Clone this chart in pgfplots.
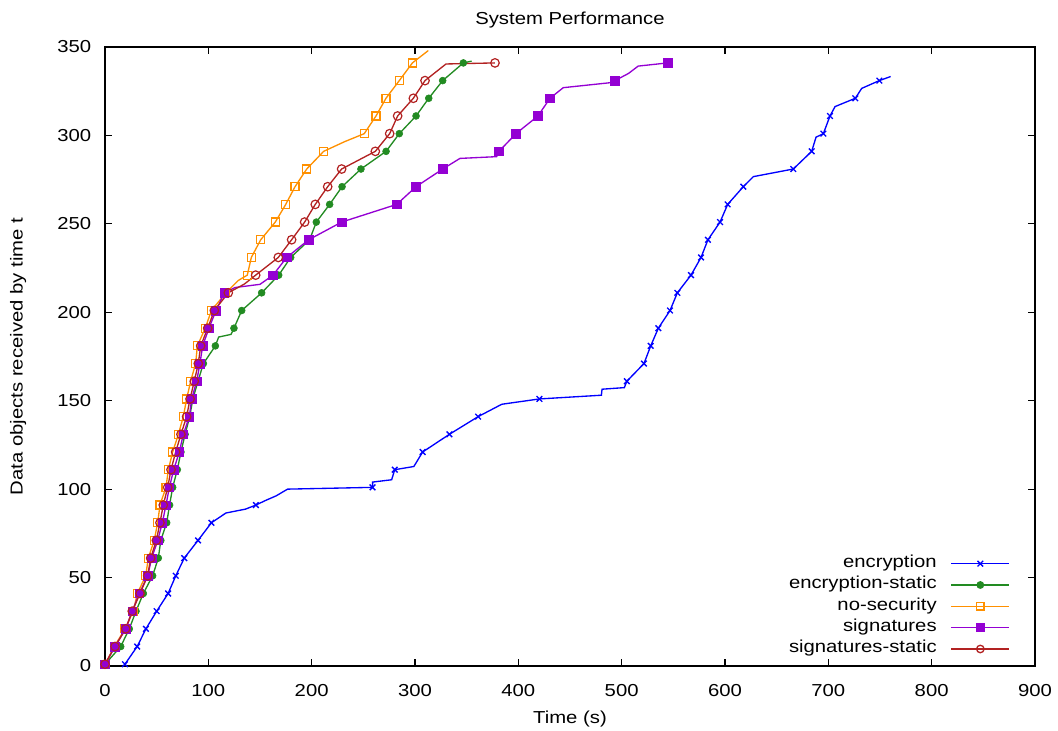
\documentclass[border=0pt]{standalone}
\usepackage{fontspec}
\setmainfont{Liberation Sans}[FakeStretch=1.17]
\usepackage{pgfplots}
\usepackage{pgfplotstable}
\pgfplotsset{compat=1.18}
\newcommand\fsz{\fontsize{13}{15}\selectfont}
\definecolor{encC}{HTML}{0000FF}
\definecolor{encsC}{HTML}{228B22}
\definecolor{nosC}{HTML}{FF9000}
\definecolor{sigC}{HTML}{9400D3}
\definecolor{sigsC}{HTML}{B22222}

\pgfplotstableread{
t n m
19.3 1 1
31.1 11 1
39.6 21 1
50.0 31 1
61.1 41 1
68.5 51 1
76.7 61 1
90.0 71 1
103.0 81 1
117.0 86.5 0
136.0 88.7 0
146.0 91 1
155.0 93.5 0
165.6 96.2 0
176.7 100 0
258.9 101 1
259.0 104 0
277.4 105.3 0
280.4 111 1
298.9 112.8 0
307.4 121 1
333.3 131 1
361.1 141 1
384.0 148 0
420.4 151 1
480.4 153.1 0
481.0 156.5 0
502.6 157.4 0
505.0 161 1
521.6 171 1
528.1 181 1
535.5 191 1
546.8 201 1
553.9 211 1
567.1 221 1
576.8 231 1
583.5 241 1
595.2 251 1
602.6 261 1
617.7 271 1
627.4 276.7 0
666.1 281 1
683.9 291 1
688.1 299 0
695.2 301 1
701.6 311 1
706.5 316.3 0
726.1 321 1
732.3 326.6 0
749.4 331 1
760.3 333.3 0
}\encr

\pgfplotstableread{
t n m
0 1 1
15.2 11 1
23.5 21 1
30.0 31 1
37.1 41 1
46.1 51 1
51.6 61 1
54.0 71 1
59.7 81 1
62.5 91 1
65.5 101 1
70.0 111 1
73.5 121 1
77.5 131 1
82.0 141 1
85.0 151 1
90.0 161 1
95.2 171 1
106.8 181 1
110.0 186 0
122.0 187.5 0
124.8 191 1
132.3 201 1
151.6 211 1
168.1 221 1
179.7 231 1
198.0 241 1
204.5 251 1
217.4 261 1
229.4 271 1
247.7 281 1
272.0 291 1
284.8 301 1
301.0 311 1
313.3 321 1
326.8 331 1
346.8 341 1
354.8 342 0
}\encs

\pgfplotstableread{
t n m
0 1 1
9.0 11 1
19.4 21 1
27.4 31 1
31.3 41 1
39.4 51 1
41.9 61 1
47.6 71 1
51.0 81 1
53.2 91 1
59.0 101 1
61.3 111 1
65.5 121 1
71.0 131 1
75.8 141 1
79.0 151 1
82.9 161 1
87.7 171 1
89.4 181 1
97.0 191 1
103.0 201 1
117.0 211 1
129.0 218 0
137.7 221 1
141.6 231 1
150.7 241 1
164.8 251 1
174.9 261 1
183.9 271 1
195.2 281 1
211.6 291 1
232.0 296.5 0
250.9 301 1
262.3 311 1
271.9 321 1
284.8 331 1
297.5 341 1
312.9 348 0
}\nosec

\pgfplotstableread{
t n m
0 1 1
9.7 11 1
20.0 21 1
26.4 31 1
33.2 41 1
41.3 51 1
45.2 61 1
51.0 71 1
55.5 81 1
59.0 91 1
62.3 101 1
66.5 111 1
71.9 121 1
75.8 131 1
81.6 141 1
83.9 151 1
88.7 161 1
91.9 171 1
94.5 181 1
100.6 191 1
107.4 201 1
115.5 211 1
125.8 214 0
150.0 215.8 0
162.6 221 1
175.8 231 1
197.1 241 1
229.0 251 1
282.3 261 1
301.0 271 1
326.8 281 1
343.5 287 0
379.0 288 0
381.3 291 1
397.7 301 1
419.0 311 1
430.6 321 1
443.5 327 0
488.7 329.8 0
493.5 331 1
506.5 335 0
516.0 339.2 0
544.5 341 1
}\sig

\pgfplotstableread{
t n m
0 1 1
9.7 11 1
20.0 21 1
26.4 31 1
33.9 41 1
41.3 51 1
44.2 61 1
49.7 71 1
53.2 81 1
56.4 91 1
60.7 101 1
63.9 111 1
68.4 121 1
73.5 131 1
79.0 141 1
82.3 151 1
86.4 161 1
90.3 171 1
92.6 181 1
99.4 191 1
105.8 201 1
119.3 211 1
135.0 216 0
145.8 221 1
167.7 231 1
180.6 241 1
193.2 251 1
203.5 261 1
215.5 271 1
229.0 281 1
261.6 291 1
275.5 301 1
283.2 311 1
298.4 321 1
309.7 331 1
330.0 340.4 0
377.4 341 1
}\sigs

\begin{document}
\begin{tikzpicture}[font=\fsz]
\useasboundingbox (-78.75pt,-48.75pt) rectangle (714.75pt,499.5pt);
\begin{axis}[
  name=ax, at={(0,0)}, anchor=south west,
  scale only axis, width=697.5pt, height=464.25pt,
  xmin=0, xmax=900, ymin=0, ymax=350,
  xtick={0,100,...,900}, ytick={0,50,...,350},
  tick align=inside, major tick length=5pt,
  axis line style={line width=0.8pt}, every tick/.style={black, line width=0.8pt},
  /pgf/number format/assume math mode=true,
  tick label style={font=\fsz},
  xticklabel style={yshift=-10pt},
  yticklabel style={xshift=-6.9pt},
  title={System Performance},
  title style={at={(axis description cs:0.5,1.030)}, anchor=center, yshift=0pt, font=\fsz},
  xlabel={Time (s)},
  xlabel style={at={(axis description cs:0.5,-0.0856)}, anchor=center, font=\fsz},
  ylabel={Data objects received by time t},
  ylabel style={at={(axis description cs:-0.0935,0.5)}, anchor=center, font=\fsz},
  legend plot pos=right, legend cell align=right,
  legend style={draw=none, fill=none, font=\fsz, at={(axis description cs:1,0)},
    anchor=south east, xshift=-18.75pt, yshift=4.75pt, inner sep=0pt, outer sep=0pt,
    column sep=10.5pt,
    nodes={inner xsep=0pt, inner ysep=2pt, text height=9pt, text depth=3pt}},
  legend image code/.code={\draw[mark repeat=2,mark phase=2,#1] plot coordinates {(0pt,0pt) (21.75pt,0pt) (43.5pt,0pt)};},
  unbounded coords=discard,
]
% encryption
\addplot[encC, line width=1pt, forget plot] table[x=t,y=n] {\encr};
\addplot[encC, only marks, mark=x, mark size=3pt, line width=1pt, forget plot,
  restrict expr to domain={\thisrow{m}}{1:1}] table[x=t,y=n] {\encr};
% encryption-static
\addplot[encsC, line width=1pt, forget plot] table[x=t,y=n] {\encs};
\addplot[encsC, only marks, mark=*, mark size=2.6pt, forget plot,
  restrict expr to domain={\thisrow{m}}{1:1}] table[x=t,y=n] {\encs};
% no-security
\addplot[nosC, line width=1pt, forget plot] table[x=t,y=n] {\nosec};
\addplot[nosC, only marks, mark=square, mark size=3pt, line width=0.9pt, forget plot,
  restrict expr to domain={\thisrow{m}}{1:1}] table[x=t,y=n] {\nosec};
% signatures
\addplot[sigC, line width=1pt, forget plot] table[x=t,y=n] {\sig};
\addplot[sigC, only marks, mark=square*, mark size=3.2pt, forget plot,
  restrict expr to domain={\thisrow{m}}{1:1}] table[x=t,y=n] {\sig};
% signatures-static
\addplot[sigsC, line width=1pt, forget plot] table[x=t,y=n] {\sigs};
\addplot[sigsC, only marks, mark=o, mark size=3.2pt, line width=0.9pt, forget plot,
  restrict expr to domain={\thisrow{m}}{1:1}] table[x=t,y=n] {\sigs};

\addlegendimage{encC, line width=1pt, mark=x, mark size=3pt}
\addlegendentry{encryption}
\addlegendimage{encsC, line width=1pt, mark=*, mark size=2.4pt}
\addlegendentry{encryption-static}
\addlegendimage{nosC, line width=1pt, mark=square, mark size=2.8pt}
\addlegendentry{no-security}
\addlegendimage{sigC, line width=1pt, mark=square*, mark size=2.8pt}
\addlegendentry{signatures}
\addlegendimage{sigsC, line width=1pt, mark=o, mark size=2.8pt}
\addlegendentry{signatures-static}
\end{axis}
\end{tikzpicture}
\end{document}
